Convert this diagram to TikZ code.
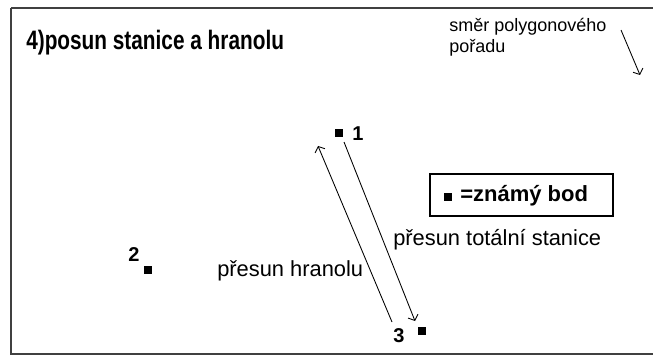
\documentclass[tikz,border=0pt]{standalone}
\usepackage{fontspec}
\setmainfont{Liberation Sans}
\usepackage{graphicx}
\usepackage{tikz}
\usetikzlibrary{arrows.meta}
\usepackage{xcolor}

\tikzset{
  bod/.style={rectangle, fill=black, inner sep=0pt, minimum size=5.6pt},
  cislo/.style={font=\fontsize{15}{15}\selectfont\bfseries, inner sep=0pt},
  popis/.style={font=\fontsize{16.4}{16}\selectfont, inner sep=0pt, anchor=west},
  sipka/.style={line width=0.65pt, -{Straight Barb[length=3.5pt,width=8pt]}}
}

\begin{document}
\begin{tikzpicture}[x=0.75pt, y=-0.75pt]
    \useasboundingbox (0,0) rectangle (653,356);
    % frame
    \draw[line width=1.6pt, black!75] (11,8) -- (660,8);
    \draw[line width=1.6pt, black!75] (11,8) -- (11,354) -- (660,354);

    % title
    \node[anchor=west, inner sep=0pt, font=\fontsize{20}{20}\selectfont\bfseries] (title) at (26,43) {\scalebox{0.78}[1]{4)posun stanice a hranolu}};

    % direction of the traverse
    \node[anchor=west, inner sep=0pt, font=\fontsize{13.5}{14}\selectfont] (smer) at (449,27) {směr polygonového};
    \node[anchor=west, inner sep=0pt, font=\fontsize{13.5}{14}\selectfont] (porad) at (449,48) {pořadu};
    \coordinate (smerA) at (621,30);
    \coordinate (smerB) at (640,75);
    \draw[sipka] (smerA) -- (smerB);

    % points
    \node[bod] (p1) at (339,133) {};
    \node[cislo] (c1) at (358,134) {1};
    \node[bod] (p2) at (148,270) {};
    \node[cislo] (c2) at (134,255) {2};
    \node[bod] (p3) at (422,331) {};
    \node[cislo] (c3) at (399,336) {3};

    % legend
    \node[draw, line width=1.2pt, minimum width=137pt, minimum height=31.5pt] (legenda) at (521.5,195) {};
    \node[bod] (lbod) at (448,197) {};
    \node[anchor=west, inner sep=0pt, font=\fontsize{16.5}{17}\selectfont\bfseries] (ltext) at (460,196) {=známý bod};

    % moves
    \coordinate (stA) at (344,142);
    \coordinate (stB) at (415,321);
    \draw[sipka] (stA) -- (stB);
    \coordinate (hrA) at (392,322);
    \coordinate (hrB) at (318,146);
    \draw[sipka] (hrA) -- (hrB);
    \node[popis] (stanice) at (393,240) {přesun totální stanice};
    \node[popis] (hranol) at (217,271) {přesun hranolu};
\end{tikzpicture}
\end{document}
